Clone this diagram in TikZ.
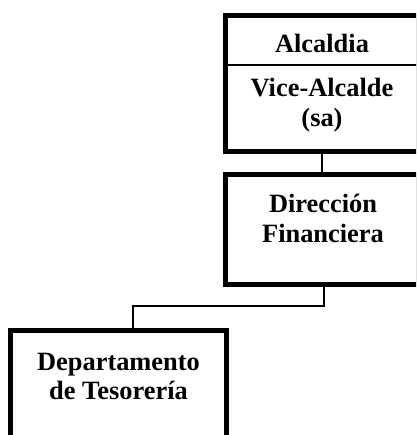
\documentclass[tikz,border=0pt]{standalone}
\usepackage{fontspec}
\setmainfont{Liberation Serif}
\begin{document}
\begin{tikzpicture}[x=1pt,y=-1pt,
  boxst/.style={draw=black,line width=5pt,rectangle,inner sep=0pt,outer sep=0pt,fill=white},
  lbl/.style={anchor=base,inner sep=0pt,font=\fontsize{26.4}{30}\selectfont\bfseries},
  conn/.style={draw=black,line width=1.3pt}]
\useasboundingbox (0,0) rectangle (416,435);
\clip (0,0) rectangle (416,435);
\fill[white] (0,0) rectangle (416,435);
% connectors (drawn first, boxes on top)
\coordinate (j1) at (324,306);
\coordinate (j2) at (133,306);
\coordinate (c1) at (322,152);
\coordinate (c2) at (322,175);
\coordinate (c3) at (324,284);
\coordinate (c4) at (133,330);
% boxes
\node[boxst,minimum width=193pt,minimum height=136.5pt] (alc) at (321.5,83.75) {};
\node[boxst,minimum width=192.5pt,minimum height=110pt] (dir) at (321.75,229.5) {};
\node[boxst,minimum width=215.5pt,minimum height=130pt] (tes) at (118.25,395) {};
\draw[conn] (alc.south -| c1) -- (dir.north -| c2);
\draw[conn] (dir.south -| c3) -- (j1) -- (j2) -- (tes.north -| c4);
\draw[conn] (alc.west |- 0,65) -- (alc.east |- 0,65);
% labels
\node[lbl] (t1) at (322,53) {Alcaldia};
\node[lbl] (t2) at (322,97) {Vice-Alcalde};
\node[lbl] (t3) at (322,127) {(sa)};
\node[lbl] (t4) at (323,212) {Dirección};
\node[lbl] (t5) at (323,242) {Financiera};
\node[lbl] (t6) at (118.5,370) {Departamento};
\node[lbl] (t7) at (118.5,399) {de Tesorería};
\end{tikzpicture}
\end{document}
